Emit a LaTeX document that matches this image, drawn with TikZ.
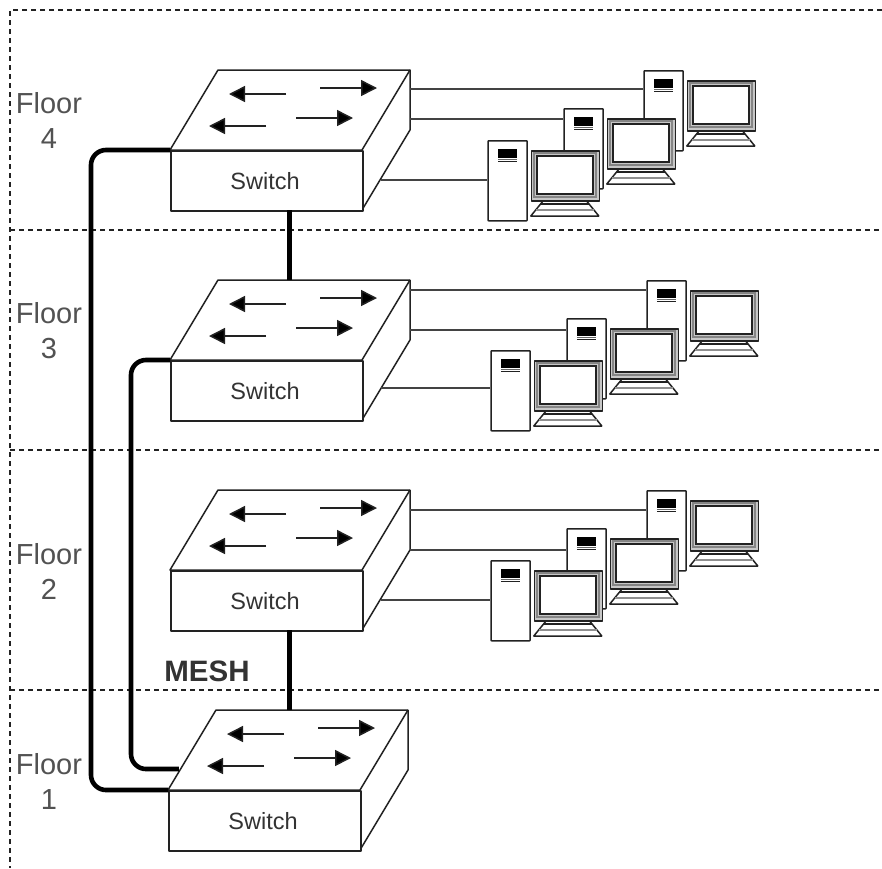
\documentclass[tikz,border=0pt]{standalone}
\usepackage{fontspec}
\setmainfont{Liberation Sans}
\usetikzlibrary{arrows.meta,calc}
\definecolor{txt}{HTML}{333333}
\definecolor{ink}{HTML}{222222}
\tikzset{
  x=1pt,y=-1pt,
  frameline/.style={line width=1.1pt,draw=ink,dash pattern=on 5pt off 4pt},
  outline/.style={line width=1.5pt,draw=ink,line join=round},
  frontbox/.style={outline,fill=white,rectangle,minimum width=192pt,minimum height=60pt,inner sep=0pt,anchor=north west,text=txt,font=\fontsize{23.5}{28}\selectfont},
  portarrow/.style={line width=1.5pt,draw=ink,-{Triangle[length=16pt,width=16pt,fill=black]}},
  backbone/.style={line width=4.6pt,draw=black,rounded corners=15pt},
  trunk/.style={line width=4.6pt,draw=black},
  cable/.style={line width=1.5pt,draw=ink!85},
  towerbox/.style={outline,fill=white,rectangle,minimum width=39pt,minimum height=80pt,inner sep=0pt,anchor=north west,rounded corners=0.5pt},
  screenbox/.style={outline,fill=black!22,rectangle,minimum width=68pt,minimum height=50pt,inner sep=0pt,anchor=north west},
  floorlabel/.style={align=center,text=txt!85,font=\fontsize{29}{35}\selectfont,inner sep=0pt},
}
% #1 name, #2 x and #3 y of the top left corner of the front face,
% #4 #5 #6 heights of the three cables relative to the front face
\newcommand{\switchunit}[6]{%
  \begin{scope}[shift={(#2,#3)}]
    \draw[outline,fill=white] (0,0) -- (48,-80) -- (240,-80) -- (240,-20) -- (192,60) -- (192,0) -- cycle;
    \draw[outline] (192,0) -- (240,-80);
    \node[frontbox] (#1) at (0,0) {};
    \node[text=txt,inner sep=0pt,font=\fontsize{23.5}{28}\selectfont] (#1label) at (95,30.7) {Switch};
    \draw[portarrow] (116,-56) -- (59,-56);
    \draw[portarrow] (96,-24) -- (39,-24);
    \draw[portarrow] (150,-62) -- (207,-62);
    \draw[portarrow] (126,-32) -- (183,-32);
    \coordinate (#1top) at (119.5,-80);
    \coordinate (#1bottom) at (119.5,60);
    \coordinate (#1porta) at (240,#4);
    \coordinate (#1portb) at (240,#5);
    \coordinate (#1portc) at (211,#6);
    \coordinate (#1mesh) at (10.8,-21);
  \end{scope}}
% #1 name, #2 x and #3 y of the top left corner of the tower
\newcommand{\pcunit}[3]{%
  \begin{scope}[shift={(#2,#3)}]
    \node[towerbox] (#1) at (0,0) {};
    \fill[black] (10.7,9) rectangle (29.7,17.5);
    \draw[line width=0.9pt,draw=ink!70] (10.7,19) -- (29.7,19);
    \draw[line width=1pt,draw=ink] (10.7,21.5) -- (29.7,21.5);
    \draw[outline,fill=white] (56.5,60) -- (43.5,76) -- (111.5,76) -- (98.5,60) -- cycle;
    \draw[line width=1.5pt,draw=ink] (53.5,64) -- (101.5,64);
    \draw[line width=1.5pt,draw=ink!50] (48.5,70) -- (106.5,70);
    \node[screenbox] (#1screen) at (43.5,10) {};
    \draw[line width=1.5pt,draw=ink!55] (46.5,13) rectangle (108.5,57);
    \draw[line width=1.5pt,draw=ink,fill=white] (49.5,16) rectangle (105.5,54);
  \end{scope}}
\begin{document}
\begin{tikzpicture}
\useasboundingbox (0,0) rectangle (882,868);
\fill[white] (0,0) rectangle (882,868);
\coordinate (frametl) at (10,10);
\draw[frameline] (882,10) -- (frametl) -- (10,868);
\foreach \yy in {230,450,690} \draw[frameline] (10,\yy) -- (882,\yy);

\switchunit{swd}{170}{150}{-61}{-31}{30}
\switchunit{swc}{170}{360}{-70}{-30}{28}
\switchunit{swb}{170}{570}{-60}{-20}{30}
\switchunit{swa}{168}{790}{-61}{-31}{30}

\pcunit{da}{643.3}{70}
\pcunit{db}{563.3}{108}
\pcunit{dc}{487.3}{140}
\pcunit{ca}{646.3}{280}
\pcunit{cb}{566.3}{318}
\pcunit{cc}{490.3}{350}
\pcunit{ba}{646.3}{490}
\pcunit{bb}{566.3}{528}
\pcunit{bc}{490.3}{560}

\draw[cable] (swdporta) -- (swdporta -| da.west);
\draw[cable] (swdportb) -- (swdportb -| db.west);
\draw[cable] (swdportc) -- (swdportc -| dc.west);
\draw[cable] (swcporta) -- (swcporta -| ca.west);
\draw[cable] (swcportb) -- (swcportb -| cb.west);
\draw[cable] (swcportc) -- (swcportc -| cc.west);
\draw[cable] (swbporta) -- (swbporta -| ba.west);
\draw[cable] (swbportb) -- (swbportb -| bb.west);
\draw[cable] (swbportc) -- (swbportc -| bc.west);

\coordinate (riserouter) at (91,400);
\coordinate (riserinner) at (131,400);
\draw[backbone] (swd.north west) -| (riserouter |- swa.north west) -- (swa.north west);
\draw[backbone] (swc.north west) -| (riserinner |- swamesh) -- (swamesh);
\draw[trunk] (swdbottom) -- (swdbottom |- swctop);
\draw[trunk] (swbbottom) -- (swbbottom |- swatop);

\node[floorlabel] (fd) at (49,120.5) {Floor\\4};
\node[floorlabel] (fc) at (49,331) {Floor\\3};
\node[floorlabel] (fb) at (49,571) {Floor\\2};
\node[floorlabel] (fa) at (49,781) {Floor\\1};
\node[text=txt,inner sep=0pt,font=\bfseries\fontsize{29.5}{34}\selectfont] (mesh) at (207,671) {MESH};
\end{tikzpicture}
\end{document}
